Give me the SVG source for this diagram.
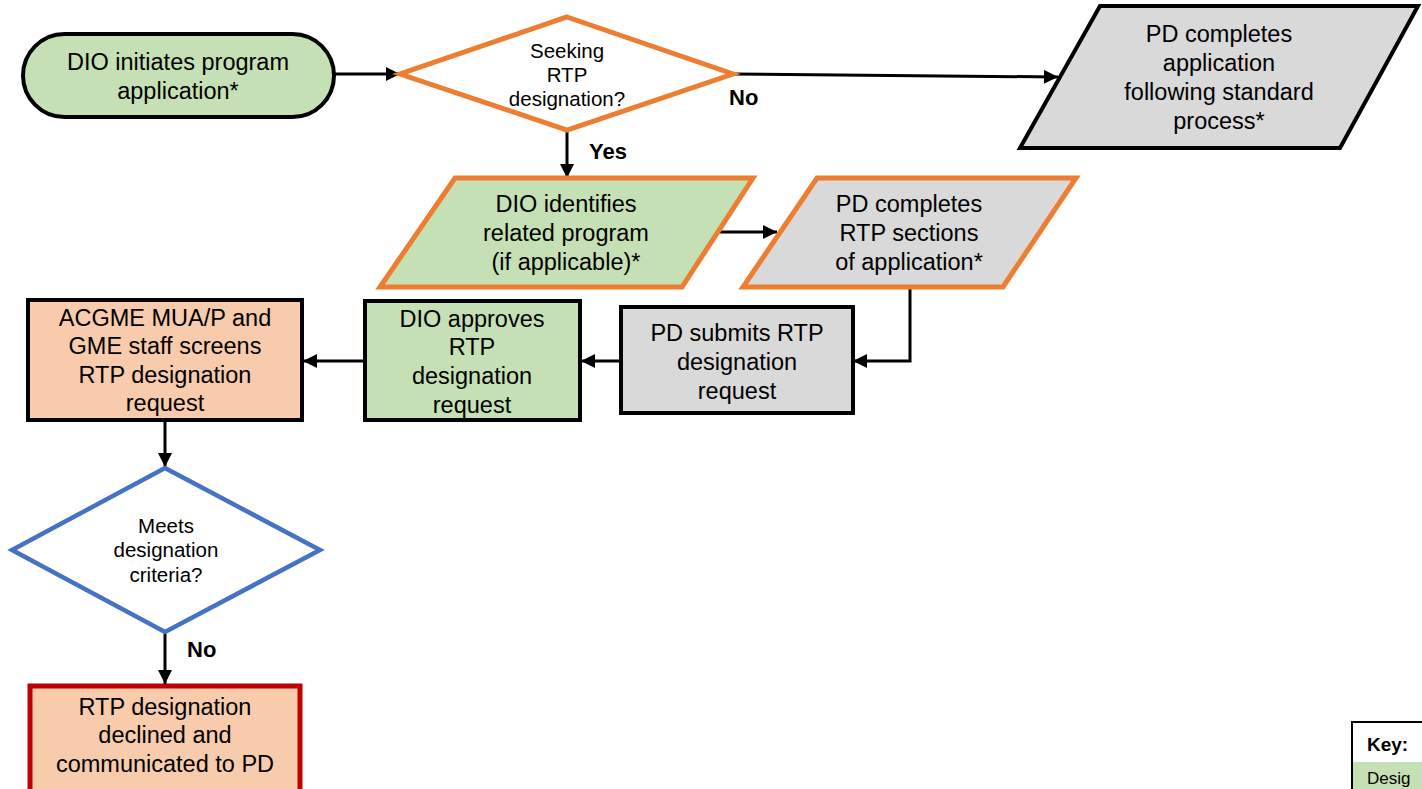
<svg xmlns="http://www.w3.org/2000/svg" width="1422" height="789" viewBox="0 0 1422 789">
<style>
text{font-family:"Liberation Sans",Arial,sans-serif;fill:#000;text-anchor:middle}
.t{font-size:23.5px}
.d{font-size:20.5px}
.lbl{font-size:22px;font-weight:bold;text-anchor:start}
.green{fill:#c5e0b4}
.gray{fill:#d9d9d9}
.salmon{fill:#f8cbad}
.bk{stroke:#000;stroke-width:4;stroke-linejoin:miter}
.or{stroke:#ed7d31;stroke-width:5}
.conn{fill:none;stroke:#000;stroke-width:3;marker-end:url(#arr)}
</style>
<defs>
<marker id="arr" viewBox="0 0 10 10" refX="10" refY="5" markerWidth="15" markerHeight="14" markerUnits="userSpaceOnUse" orient="auto">
<path d="M0,0 L10,5 L0,10 z" fill="#000"/>
</marker>
</defs>
<rect width="1422" height="789" fill="#fff"/>
<g id="connectors">
<line class="conn" x1="334" y1="74" x2="400" y2="74"/>
<polyline class="conn" points="733,74 1058,77"/>
<line class="conn" x1="567" y1="132" x2="567" y2="178"/>
<line class="conn" x1="716" y1="232" x2="777" y2="232"/>
<polyline class="conn" points="910,288 910,361 853,361"/>
<line class="conn" x1="621" y1="361" x2="581" y2="361"/>
<line class="conn" x1="365" y1="361" x2="303" y2="361"/>
<line class="conn" x1="165" y1="421" x2="165" y2="467"/>
<line class="conn" x1="165" y1="633" x2="165" y2="684"/>
<text class="lbl" x="729" y="105">No</text>
<text class="lbl" x="589" y="159">Yes</text>
<text class="lbl" x="187" y="657">No</text>
</g>
<g id="n1">
<rect class="green bk" x="23" y="34" width="311" height="83" rx="41.5"/>
<text class="t" x="178" y="70">DIO initiates program</text>
<text class="t" x="178" y="99">application*</text>
</g>
<g id="n2">
<polygon points="567,17 733,74 567,130 400,74" fill="#fff" class="or"/>
<text class="d" x="567" y="58">Seeking</text>
<text class="d" x="567" y="82">RTP</text>
<text class="d" x="567" y="106">designation?</text>
</g>
<g id="n3">
<polygon class="gray bk" points="1100,6 1418,6 1340,148 1020,148"/>
<text class="t" x="1219" y="42">PD completes</text>
<text class="t" x="1219" y="71">application</text>
<text class="t" x="1219" y="100">following standard</text>
<text class="t" x="1219" y="129">process*</text>
</g>
<g id="n4">
<polygon class="green or" points="455,178 753,178 682,287 380,287"/>
<text class="t" x="566" y="212">DIO identifies</text>
<text class="t" x="566" y="241">related program</text>
<text class="t" x="566" y="270">(if applicable)*</text>
</g>
<g id="n5">
<polygon class="gray or" points="817,178 1076,178 1003,287 743,287"/>
<text class="t" x="909" y="212">PD completes</text>
<text class="t" x="909" y="241">RTP sections</text>
<text class="t" x="909" y="270">of application*</text>
</g>
<g id="n6">
<rect class="gray bk" x="621" y="307" width="232" height="106"/>
<text class="t" x="737" y="341">PD submits RTP</text>
<text class="t" x="737" y="370">designation</text>
<text class="t" x="737" y="399">request</text>
</g>
<g id="n7">
<rect class="green bk" x="365" y="301" width="215" height="119"/>
<text class="t" x="472" y="327">DIO approves</text>
<text class="t" x="472" y="355">RTP</text>
<text class="t" x="472" y="384">designation</text>
<text class="t" x="472" y="413">request</text>
</g>
<g id="n8">
<rect class="salmon bk" x="28" y="300" width="274" height="120"/>
<text class="t" x="165" y="326">ACGME MUA/P and</text>
<text class="t" x="165" y="354">GME staff screens</text>
<text class="t" x="165" y="383">RTP designation</text>
<text class="t" x="165" y="411">request</text>
</g>
<g id="n9">
<polygon points="165,468 320,550 165,632 12,550" fill="#fff" stroke="#4472c4" stroke-width="4.5"/>
<text class="d" x="166" y="533">Meets</text>
<text class="d" x="166" y="557">designation</text>
<text class="d" x="166" y="582">criteria?</text>
</g>
<g id="n10">
<rect class="salmon" x="30" y="686" width="270" height="110" stroke="#c00000" stroke-width="5"/>
<text class="t" x="165" y="715">RTP designation</text>
<text class="t" x="165" y="743">declined and</text>
<text class="t" x="165" y="772">communicated to PD</text>
</g>
<g id="key">
<rect x="1352" y="722" width="80" height="80" fill="#fff" stroke="#000" stroke-width="2"/>
<rect x="1353" y="762" width="78" height="40" fill="#c5e0b4"/>
<text x="1367" y="751" style="font-size:19px;font-weight:bold;text-anchor:start">Key:</text>
<text x="1367" y="784" style="font-size:17px;text-anchor:start">Desig</text>
</g>
</svg>
